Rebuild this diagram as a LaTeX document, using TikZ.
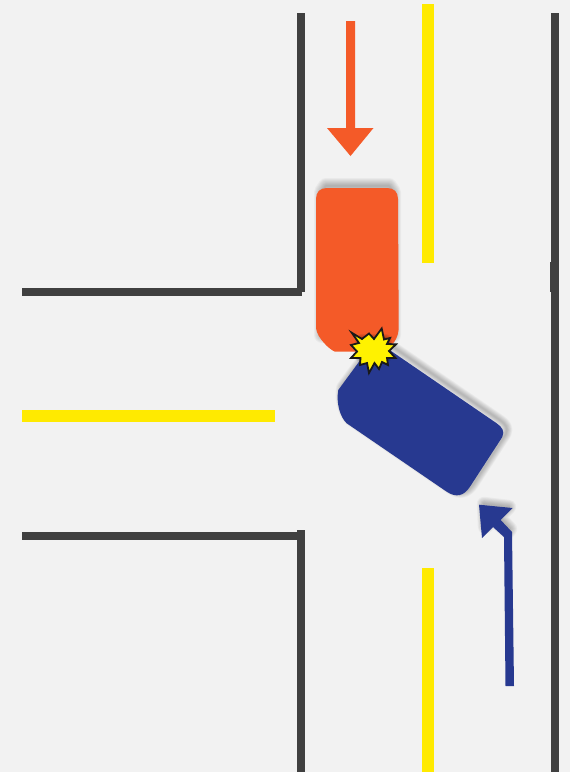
\documentclass[tikz,border=0pt]{standalone}
\usepackage{tikz}
\definecolor{bgcol}{HTML}{F2F2F2}
\definecolor{roadcol}{HTML}{404040}
\definecolor{lanecol}{HTML}{FFEA00}
\definecolor{orangecar}{HTML}{F45A28}
\definecolor{bluecar}{HTML}{273990}
\def\orangepath{(327,188)--(387,188) .. controls (394,188) and (398,192) .. (398,199)
    --(398.7,327) .. controls (398.7,336) and (395,343) .. (388,348)
    --(384,351.7)--(335,351.7) .. controls (330,350) and (317,338) .. (316,328)
    --(316,199) .. controls (316,192) and (320,188) .. (327,188)--cycle}
\def\bluepath{(375,340)--(496.7,423.3) .. controls (502,427) and (505,431) .. (502.3,437)
    --(470,486.7) .. controls (464,496) and (456,498) .. (446.7,491.7)
    --(346.7,423.3) .. controls (340,417) and (336,403) .. (338.3,390)--cycle}
\def\headpath{(483,507)--(508,510)--(498,520)--(509,532)--(507,535)--(493,523)--(484,530)--cycle}
\def\starpath{(351.7,332.7)--(362,339)--(369,333.5)--(374,339)--(381.7,328.5)--(384,339.5)--(390,338)
    --(387,344)--(396,344.3)--(389,351)--(395.5,358)--(387,358)--(388,365)--(382,362)--(379,369)
    --(374.5,363)--(369,373)--(367,363)--(360,365)--(360.5,358)--(351,358)--(357,351.5)--(351,345)--(359,343)--cycle}
\begin{document}
\begin{tikzpicture}[x=1pt, y=-1pt,
  road/.style={draw=roadcol, line width=8pt},
  lane/.style={draw=lanecol, line width=12pt},
  softshade/.style={draw=black, line join=round, opacity=#1}]
  \useasboundingbox[fill=bgcol] (0,0) rectangle (570,772);
  % lane markings
  \draw[lane] (428,4)--(428,263);
  \draw[lane] (428,568)--(428,772);
  \draw[lane] (22,415.5)--(275,415.5);
  % kerbs
  \draw[road] (22,292)--(302,292);
  \draw[road] (301.3,13)--(301.3,292);
  \draw[road] (22,535.5)--(301,535.5);
  \draw[road] (301.3,530)--(301.3,772);
  \draw[road] (554.5,13)--(554.5,772);
  \draw[draw=roadcol, line width=9pt] (554.5,262)--(554.5,292);
  % soft shadows
  \foreach \w in {1,2,...,8}{
    \draw[softshade=.035, line width=2*\w pt] (326,186)--(389,186)--(393,192)--(393,335)--(322,335)--(322,192)--cycle;
    \draw[softshade=.03, line width=1.4*\w pt, xshift=3.5pt, yshift=3pt] \bluepath;
    \draw[softshade=.035, line width=1.8*\w pt, xshift=1pt, yshift=3pt] \headpath;
  }
  % orange car
  \fill[orangecar] \orangepath;
  % blue car
  \fill[bluecar] \bluepath;
  % orange arrow
  \fill[orangecar] (346,21)--(355,21)--(355,128)--(373.5,128)--(350.5,156)--(327,128)--(346,128)--cycle;
  % blue arrow
  \fill[bluecar] (505.5,686)--(514,686)--(512,532)--(500.7,520)--(512.5,508)--(479,504.7)--(482,538)--(493,527)--(504,537)--cycle;
  % impact star
  \foreach \w in {1,2,...,8}{
    \draw[softshade=.07, line width=1.8*\w pt, yshift=4pt] (362,345)--(385,345)--(385,360)--(362,360)--cycle;
  }
  \draw[fill=yellow, draw=black!90, line width=1.8pt, miter limit=10] \starpath;
\end{tikzpicture}
\end{document}
